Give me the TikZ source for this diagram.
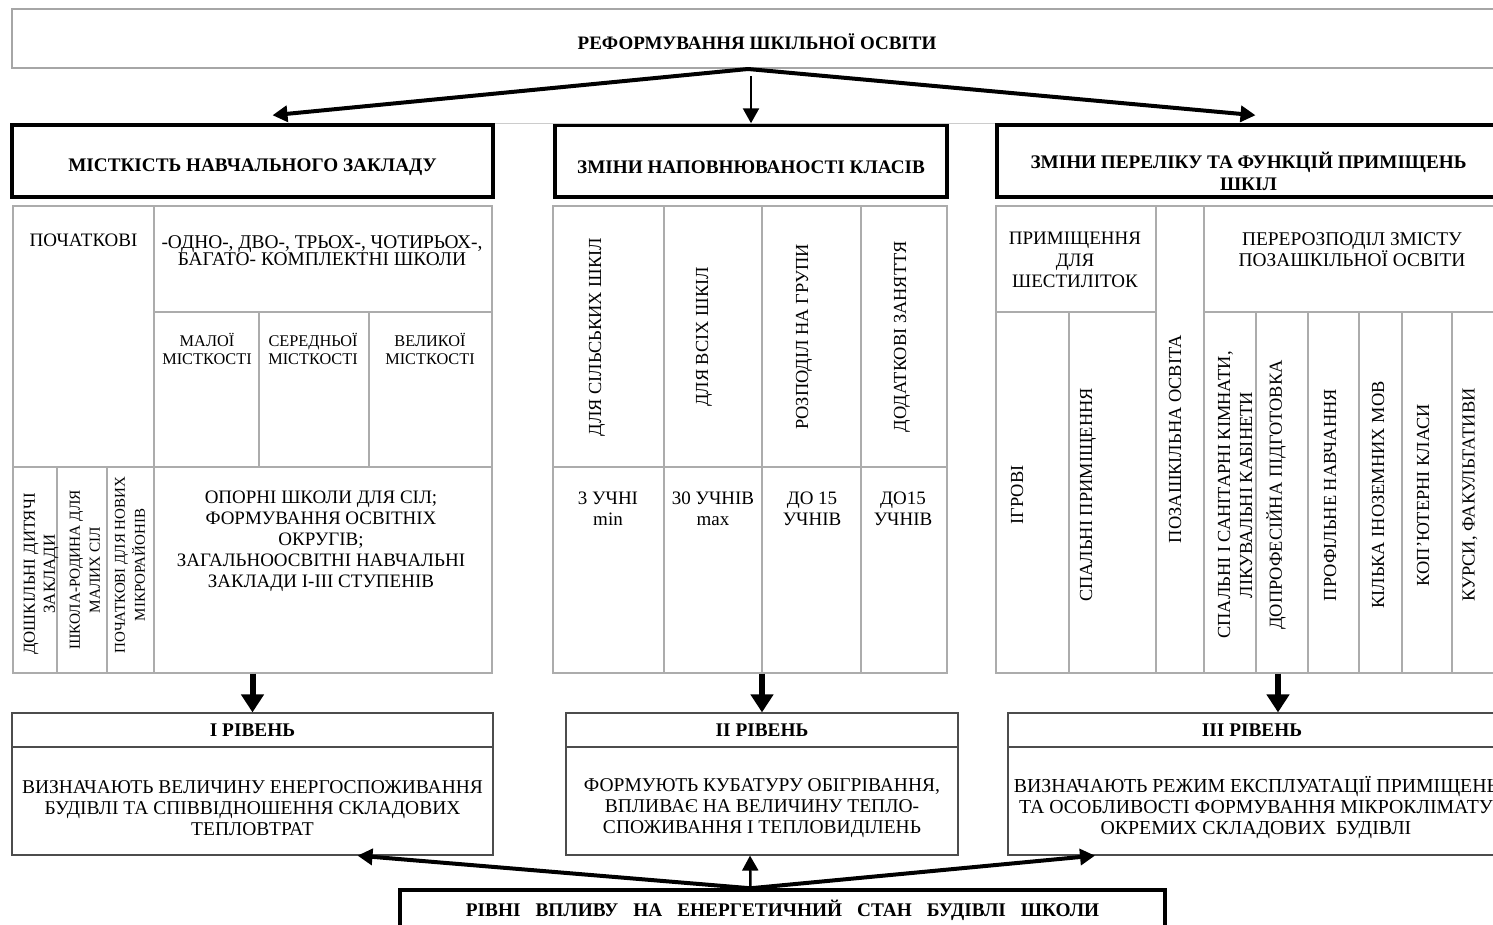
\documentclass[tikz,border=0pt]{standalone}
\usepackage{fontspec}
\setmainfont{Liberation Serif}
\usetikzlibrary{arrows.meta}

\begin{document}
\begin{tikzpicture}[x=1pt, y=-1pt]
	\tikzstyle{topbox} = [draw=gray!70, line width=2pt, minimum width=1490pt, minimum height=59pt, text height=21pt, text depth=0pt, font=\bfseries\fontsize{19}{22}\selectfont]
\tikzstyle{headbox} = [draw, line width=3.5pt, minimum height=72pt]
\tikzstyle{headtext} = [font=\bfseries\fontsize{19.2}{22}\selectfont, align=center, inner sep=0pt]
\tikzstyle{lvlhead} = [draw=black!70, line width=1.2pt, minimum height=34pt, font=\bfseries\fontsize{19.3}{22}\selectfont]
\tikzstyle{lvlbody} = [draw=black!70, line width=1.2pt, minimum height=108pt]
\tikzstyle{bodytext} = [font=\fontsize{19.5}{21}\selectfont, align=center, inner sep=0pt]
\tikzstyle{grid} = [draw=gray!65, line width=1.1pt]
\tikzstyle{cell} = [font=\fontsize{19}{21}\selectfont, align=center, inner sep=0pt]
\tikzstyle{vcell} = [cell, rotate=90, font=\fontsize{18.4}{22}\selectfont]
\tikzstyle{arr} = [line width=4pt, >={Triangle[length=15pt, width=16pt]}]
\tikzstyle{bigarr} = [line width=6pt, >={Triangle[length=18pt, width=22pt]}]
\def\widesp{\spaceskip=15pt\relax}

\useasboundingbox (0,0) rectangle (1493,924);
\clip (0,0) rectangle (1493,924);

%reform
\node[topbox] (reform) at (757,38.5) {РЕФОРМУВАННЯ ШКІЛЬНОЇ ОСВІТИ};

%headers
\node[headbox, minimum width=481pt] (h_1) at (252.5,161) {};
\node[headbox, minimum width=392pt] (h_2) at (751,161) {};
\node[headbox, minimum width=503pt] (h_3) at (1248.5,161) {};
\node[headtext] (h_1t) at ([yshift=-6pt]h_1.center) {МІСТКІСТЬ НАВЧАЛЬНОГО ЗАКЛАДУ};
\node[headtext] (h_2t) at ([yshift=-6pt]h_2.center) {ЗМІНИ НАПОВНЮВАНОСТІ КЛАСІВ};
\node[headtext] (h_3t) at ([yshift=-10pt]h_3.center) {ЗМІНИ ПЕРЕЛІКУ ТА ФУНКЦІЙ ПРИМІЩЕНЬ\\ШКІЛ};
\draw[gray!40, line width=0.8pt] (h_1.north east) -- (h_3.north west);

\draw[arr, ->] ([xshift=-9pt]reform.south) -- ([xshift=20pt, yshift=8pt]h_1.north);
\draw[arr, ->] ([xshift=-9pt]reform.south) -- ([xshift=7pt, yshift=8pt]h_3.north);
\draw[arr, line width=2.5pt, <-] (h_2.north) -- ++(0,-47);

%tables
\node[grid, minimum width=479pt, minimum height=467pt] (tab_1) at (252.5,439.5) {};
\node[grid, minimum width=394pt, minimum height=467pt] (tab_2) at (750,439.5) {};
\node[grid, minimum width=504pt, minimum height=467pt] (tab_3) at (1248,439.5) {};

\draw[grid] (154,206) -- (154,673);
\draw[grid] (13,467) -- (492,467);
\draw[grid] (154,312) -- (492,312);
\foreach \x in {259,369}
	\draw[grid] (\x,312) -- (\x,467);
\foreach \x in {57,107}
	\draw[grid] (\x,467) -- (\x,673);

\foreach \x in {664,762,861}
	\draw[grid] (\x,206) -- (\x,673);
\draw[grid] (553,467) -- (947,467);

\foreach \x in {1156,1204}
	\draw[grid] (\x,206) -- (\x,673);
\draw[grid] (1069,312) -- (1069,673);
\draw[grid] (996,312) -- (1156,312);
\draw[grid] (1204,312) -- (1500,312);
\foreach \x in {1256,1308,1359,1402,1452}
	\draw[grid] (\x,312) -- (\x,673);

%capacity
\node[cell] (c_prim) at (83.5,240) {ПОЧАТКОВІ};
\node[cell, font=\fontsize{19.4}{17}\selectfont] (c_kompl) at (322,251) {-ОДНО-, ДВО-, ТРЬОХ-, ЧОТИРЬОХ-,\\БАГАТО- КОМПЛЕКТНІ ШКОЛИ};
\foreach \name/\x/\txt in {c_mal/207/МАЛОЇ, c_ser/313/СЕРЕДНЬОЇ, c_vel/430/ВЕЛИКОЇ}
	\node[cell, font=\fontsize{16.3}{18.5}\selectfont] (\name) at (\x,349) {\txt\\МІСТКОСТІ};
\foreach \name/\x/\y/\fs/\txt in {v_1/41/574/16.8/{ДОШКІЛЬНІ ДИТЯЧІ\\ЗАКЛАДИ}, v_2/85/570/15.3/{ШКОЛА-РОДИНА ДЛЯ\\МАЛИХ СІЛ}, v_3/130/565/15/{ПОЧАТКОВІ ДЛЯ НОВИХ\\МІКРОРАЙОНІВ}}
	\node[vcell, font=\fontsize{\fs}{20}\selectfont] (\name) at (\x,\y) {\txt};
\node[cell] (c_opor) at (321,541) {ОПОРНІ ШКОЛИ ДЛЯ СІЛ;\\ФОРМУВАННЯ ОСВІТНІХ\\ОКРУГІВ;\\ЗАГАЛЬНООСВІТНІ НАВЧАЛЬНІ\\ЗАКЛАДИ І-ІІІ СТУПЕНІВ};

%classes
\foreach \name/\x/\txt in {r_1/597/ДЛЯ СІЛЬСЬКИХ ШКІЛ, r_2/704/ДЛЯ ВСІХ ШКІЛ, r_3/804/РОЗПОДІЛ НА ГРУПИ, r_4/902/ДОДАТКОВІ ЗАНЯТТЯ}
	\node[vcell] (\name) at (\x,337) {\txt};
\foreach \name/\x/\txt in {n_1/608/{3 УЧНІ\\min}, n_2/713/{30 УЧНІВ\\max}, n_3/812/{ДО 15\\УЧНІВ}, n_4/903/{ДО15\\УЧНІВ}}
	\node[cell] (\name) at (\x,509) {\txt};

%rooms
\node[cell, font=\fontsize{19}{21.5}\selectfont] (s_six) at (1075,260) {ПРИМІЩЕННЯ\\ДЛЯ\\ШЕСТИЛІТОК};
\node[cell, font=\fontsize{19.4}{21}\selectfont] (s_pere) at (1352,250) {ПЕРЕРОЗПОДІЛ ЗМІСТУ\\ПОЗАШКІЛЬНОЇ ОСВІТИ};
\node[vcell] (s_poz) at (1175,439) {ПОЗАШКІЛЬНА ОСВІТА};
\foreach \name/\x/\txt in {s_1/1017/ІГРОВІ, s_2/1088/СПАЛЬНІ ПРИМІЩЕННЯ, s_3/1235/{СПАЛЬНІ І САНІТАРНІ КІМНАТИ,\\ЛІКУВАЛЬНІ КАБІНЕТИ}, s_4/1276/ДОПРОФЕСІЙНА ПІДГОТОВКА, s_5/1330/ПРОФІЛЬНЕ НАВЧАННЯ, s_6/1378/КІЛЬКА ІНОЗЕМНИХ МОВ, s_7/1423/КОП'ЮТЕРНІ КЛАСИ, s_8/1470/{КУРСИ, ФАКУЛЬТАТИВИ}}
	\node[vcell] (\name) at (\x,495) {\txt};

%levels
\foreach \i/\x/\w/\txt in {1/252.5/481/{І РІВЕНЬ}, 2/762/392/{ІІ РІВЕНЬ}, 3/1252/488/{ІІІ РІВЕНЬ}}
	\node[lvlhead, minimum width=\w pt] (l_\i) at (\x,730) {\txt};
\foreach \i/\x/\w in {1/252.5/481, 2/762/392, 3/1252/488}
	\node[lvlbody, minimum width=\w pt] (b_\i) at (\x,801) {};
\node[bodytext] (b_1t) at ([yshift=-7pt]b_1.center) {ВИЗНАЧАЮТЬ ВЕЛИЧИНУ ЕНЕРГОСПОЖИВАННЯ\\БУДІВЛІ ТА СПІВВІДНОШЕННЯ СКЛАДОВИХ\\ТЕПЛОВТРАТ};
\node[bodytext] (b_2t) at ([yshift=-7pt]b_2.center) {ФОРМУЮТЬ КУБАТУРУ ОБІГРІВАННЯ,\\ВПЛИВАЄ НА ВЕЛИЧИНУ ТЕПЛО-\\СПОЖИВАННЯ І ТЕПЛОВИДІЛЕНЬ};
\node[bodytext, font=\fontsize{19.8}{21}\selectfont] (b_3t) at ([xshift=4pt, yshift=-7pt]b_3.center) {ВИЗНАЧАЮТЬ РЕЖИМ ЕКСПЛУАТАЦІЇ ПРИМІЩЕНЬ\\ТА ОСОБЛИВОСТІ ФОРМУВАННЯ МІКРОКЛІМАТУ\\ОКРЕМИХ СКЛАДОВИХ~ БУДІВЛІ};

\draw[bigarr, ->] (tab_1.south -| l_1.north) -- (l_1.north);
\draw[bigarr, ->] (tab_2.south -| l_2.north) -- (l_2.north);
\draw[bigarr, ->] ([xshift=26pt]l_3.north |- tab_3.south) -- ([xshift=26pt]l_3.north);

%impact
\node[headbox, minimum width=765pt, minimum height=40pt, font={\bfseries\fontsize{19.3}{22}\selectfont\widesp}] (imp) at (782.5,910) {РІВНІ ВПЛИВУ НА ЕНЕРГЕТИЧНИЙ СТАН БУДІВЛІ ШКОЛИ};
\draw[arr, ->] ([xshift=-32pt]imp.north) -- ([xshift=105pt]b_1.south);
\draw[arr, line width=2.5pt, ->] ([xshift=-32pt]imp.north) -- ([xshift=-12pt]b_2.south);
\draw[arr, ->] ([xshift=-32pt]imp.north) -- ([xshift=-157pt]b_3.south);
\end{tikzpicture}
\end{document}
